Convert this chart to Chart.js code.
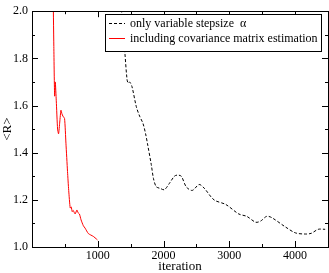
<!DOCTYPE html>
<html>
<head>
<meta charset="utf-8">
<script src="https://cdn.jsdelivr.net/npm/chart.js"></script>
<style>
  html, body { margin: 0; padding: 0; background: #fff; }
  #wrap { width: 329px; height: 273px; }
</style>
</head>
<body>
<div id="wrap"><canvas id="chart" width="329" height="273"></canvas></div>
<script>
// Values
const seriesLabels = ['only variable stepsize  \u03b1', 'including covariance matrix estimation'];

const stepIter = [1355, 1372, 1410, 1445, 1463, 1485, 1520, 1586, 1636, 1686, 1727, 1761, 1813, 1847, 1888,
    1953, 2013, 2089, 2164, 2209, 2270, 2345, 2436, 2541, 2616, 2767, 2948, 3144, 3265, 3401,
    3476, 3567, 3642, 3853, 4004, 4155, 4245, 4351, 4457];
const stepR = [2.05, 1.95, 1.83, 1.71, 1.695, 1.70, 1.68, 1.595, 1.555, 1.525, 1.48, 1.43, 1.35, 1.29, 1.256,
    1.248, 1.243, 1.27, 1.30, 1.305, 1.30, 1.255, 1.24, 1.265, 1.25, 1.20, 1.18, 1.14, 1.13, 1.105,
    1.11, 1.13, 1.125, 1.085, 1.06, 1.055, 1.058, 1.075, 1.075];

const covIter = [320, 332, 344, 354, 369, 389, 404, 422, 440, 455, 470, 495, 516, 540, 558,
    581, 596, 611, 626, 656, 682, 701, 721, 746, 781, 807, 857, 932, 983, 995];
const covR = [2.1, 1.85, 1.64, 1.70, 1.62, 1.50, 1.48, 1.53, 1.58, 1.565, 1.555, 1.545, 1.44, 1.32, 1.24,
    1.165, 1.17, 1.15, 1.155, 1.14, 1.157, 1.145, 1.14, 1.115, 1.09, 1.08, 1.057, 1.045, 1.033, 1.03];

const xMajor = [1000, 2000, 3000, 4000];
const yMajor = [1.0, 1.2, 1.4, 1.6, 1.8, 2.0];

const SERIF = '"Liberation Serif", "DejaVu Serif", serif';

function toPoints(xs, ys) {
    return xs.map((x, i) => ({ x: x, y: ys[i] }));
}

// frame, inward ticks on all four sides and the legend box
const framePlugin = {
    id: 'frame',
    afterDatasetsDraw(chart) {
        const ctx = chart.ctx;
        const a = chart.chartArea;
        const xs = chart.scales.x;
        const ys = chart.scales.y;
        ctx.save();
        ctx.strokeStyle = '#000';
        ctx.lineWidth = 1;
        ctx.strokeRect(Math.round(a.left) + 0.5, Math.round(a.top) + 0.5,
            Math.round(a.right - a.left), Math.round(a.bottom - a.top));

        ctx.beginPath();
        for (let v = 500; v < xs.max; v += 500) {
            const px = Math.round(xs.getPixelForValue(v)) + 0.5;
            const len = (v % 1000 === 0) ? 6 : 3;
            ctx.moveTo(px, a.bottom); ctx.lineTo(px, a.bottom - len);
            ctx.moveTo(px, a.top); ctx.lineTo(px, a.top + len);
        }
        for (let k = 1; k < 10; k++) {
            const v = 1 + k / 10;
            const py = Math.round(ys.getPixelForValue(v)) + 0.5;
            const len = (k % 2 === 0) ? 6 : 3;
            ctx.moveTo(a.left, py); ctx.lineTo(a.left + len, py);
            ctx.moveTo(a.right, py); ctx.lineTo(a.right - len, py);
        }
        ctx.stroke();

        // legend
        const lx = 105, ly = 14, lw = 216, lh = 37;
        ctx.fillStyle = '#fff';
        ctx.fillRect(lx, ly, lw, lh);
        ctx.strokeRect(lx + 0.5, ly + 0.5, lw, lh);
        ctx.font = '12px ' + SERIF;
        ctx.textBaseline = 'middle';
        ctx.fillStyle = '#000';
        chart.data.datasets.forEach((ds, i) => {
            const y = ly + 9.5 + i * 15;
            ctx.beginPath();
            ctx.strokeStyle = ds.borderColor;
            ctx.setLineDash(ds.borderDash || []);
            ctx.moveTo(lx + 4, y); ctx.lineTo(lx + 20, y);
            ctx.stroke();
            ctx.setLineDash([]);
            ctx.fillText(ds.label, lx + 25, y);
        });
        ctx.restore();
    }
};

new Chart(document.getElementById('chart'), {
    type: 'line',
    data: {
        datasets: [{
            label: seriesLabels[0],
            data: toPoints(stepIter, stepR),
            borderColor: '#000',
            borderWidth: 1,
            borderDash: [3, 2],
            pointRadius: 0,
            tension: 0.3
        }, {
            label: seriesLabels[1],
            data: toPoints(covIter, covR),
            borderColor: '#ff0000',
            borderWidth: 1,
            pointRadius: 0,
            tension: 0.2
        }]
    },
    options: {
        responsive: false,
        animation: false,
        parsing: false,
        layout: { padding: { top: 5, right: 1, left: 0, bottom: 0 } },
        plugins: {
            legend: { display: false },
            tooltip: { enabled: false }
        },
        scales: {
            x: {
                type: 'linear',
                min: 0,
                max: 4500,
                afterBuildTicks: (s) => { s.ticks = xMajor.map(v => ({ value: v })); },
                afterFit: (s) => { s.height = 26; },
                grid: { display: false, drawTicks: false },
                border: { display: false },
                ticks: { color: '#000', padding: 2, maxRotation: 0, callback: (v) => String(v),
                    font: { family: SERIF, size: 12 } },
                title: { display: true, text: 'iteration', color: '#000', padding: { top: 0, bottom: 0 },
                    font: { family: SERIF, size: 13, lineHeight: 1.0 } }
            },
            y: {
                type: 'linear',
                min: 1.0,
                max: 2.0,
                afterBuildTicks: (s) => { s.ticks = yMajor.map(v => ({ value: v })); },
                afterFit: (s) => { s.width = 32; },
                grid: { display: false, drawTicks: false },
                border: { display: false },
                ticks: { color: '#000', padding: 4, callback: (v) => Number(v).toFixed(1),
                    font: { family: SERIF, size: 12 } },
                title: { display: true, text: '<R>', color: '#000', padding: { top: 0, bottom: 2 },
                    font: { family: SERIF, size: 13 } }
            }
        }
    },
    plugins: [framePlugin]
});
</script>
</body>
</html>
